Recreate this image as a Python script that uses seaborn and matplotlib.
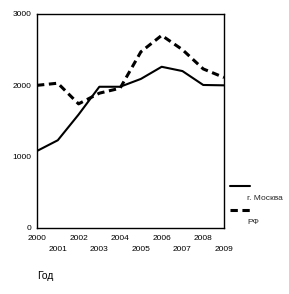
import matplotlib
matplotlib.use("Agg")
import matplotlib.pyplot as plt
from matplotlib.lines import Line2D
import seaborn as sns
import pandas as pd

years = [2000, 2001, 2002, 2003, 2004, 2005, 2006, 2007, 2008, 2009]
moscow = [1080, 1230, 1590, 1980, 1980, 2090, 2260, 2200, 2005, 2000]
rf = [2000, 2030, 1740, 1890, 1960, 2470, 2700, 2500, 2230, 2110]
series_names = ["г. Москва", "РФ"]
y_ticks = [0, 1000, 2000, 3000]
x_title = "Год"

sns.set_theme(style="white")
plt.rcParams['font.family'] = ['Liberation Sans', 'DejaVu Sans']

df = pd.DataFrame({
    "year": years * 2,
    "value": moscow + rf,
    "series": [series_names[0]] * len(years) + [series_names[1]] * len(years),
})

fig = plt.figure(figsize=(2.89, 2.94), dpi=100)
ax = fig.add_axes([37/289, 1-228/294, (224-37)/289, (228-14)/294])

sns.lineplot(data=df[df.series == series_names[0]], x="year", y="value", ax=ax,
             color="black", linewidth=1.5, legend=False)
sns.lineplot(data=df[df.series == series_names[1]], x="year", y="value", ax=ax,
             color="black", linewidth=2.2, linestyle=(0, (2.4, 1.5)), legend=False)

ax.set_xlim(years[0], years[-1])
ax.set_ylim(y_ticks[0], y_ticks[-1])
ax.set_yticks(y_ticks)
ax.set_yticklabels([str(t) for t in y_ticks], fontsize=6)
ax.set_xticks(years)
labels = [str(y) if i % 2 == 0 else "\n" + str(y) for i, y in enumerate(years)]
ax.set_xticklabels(labels, fontsize=6)
for t in ax.get_xticklabels():
    t.set_linespacing(1.85)
ax.tick_params(axis='x', direction='out', length=3, width=1, pad=2, colors='black')
ax.tick_params(axis='y', direction='out', length=2, width=1, pad=2, colors='black')
ax.set_xlabel("")
ax.set_ylabel("")
for s in ax.spines.values():
    s.set_color("black")
    s.set_linewidth(1.0)
    s.set_visible(True)

fig.text(37/289, 1-276/294, x_title, fontsize=7.5, ha='left', va='center', color='black')

# legend
fig.add_artist(Line2D([230/289, 250/289], [1-186/294, 1-186/294], color='black', linewidth=1.5,
                      transform=fig.transFigure))
fig.add_artist(Line2D([230/289, 251/289], [1-210/294, 1-210/294], color='black', linewidth=2.2,
                      linestyle=(0, (2.4, 1.5)), transform=fig.transFigure))
fig.text(247/289, 1-199/294, series_names[0], fontsize=6, ha='left', va='center')
fig.text(247/289, 1-222/294, series_names[1], fontsize=6, ha='left', va='center')

fig.savefig("out.png", dpi=100)
